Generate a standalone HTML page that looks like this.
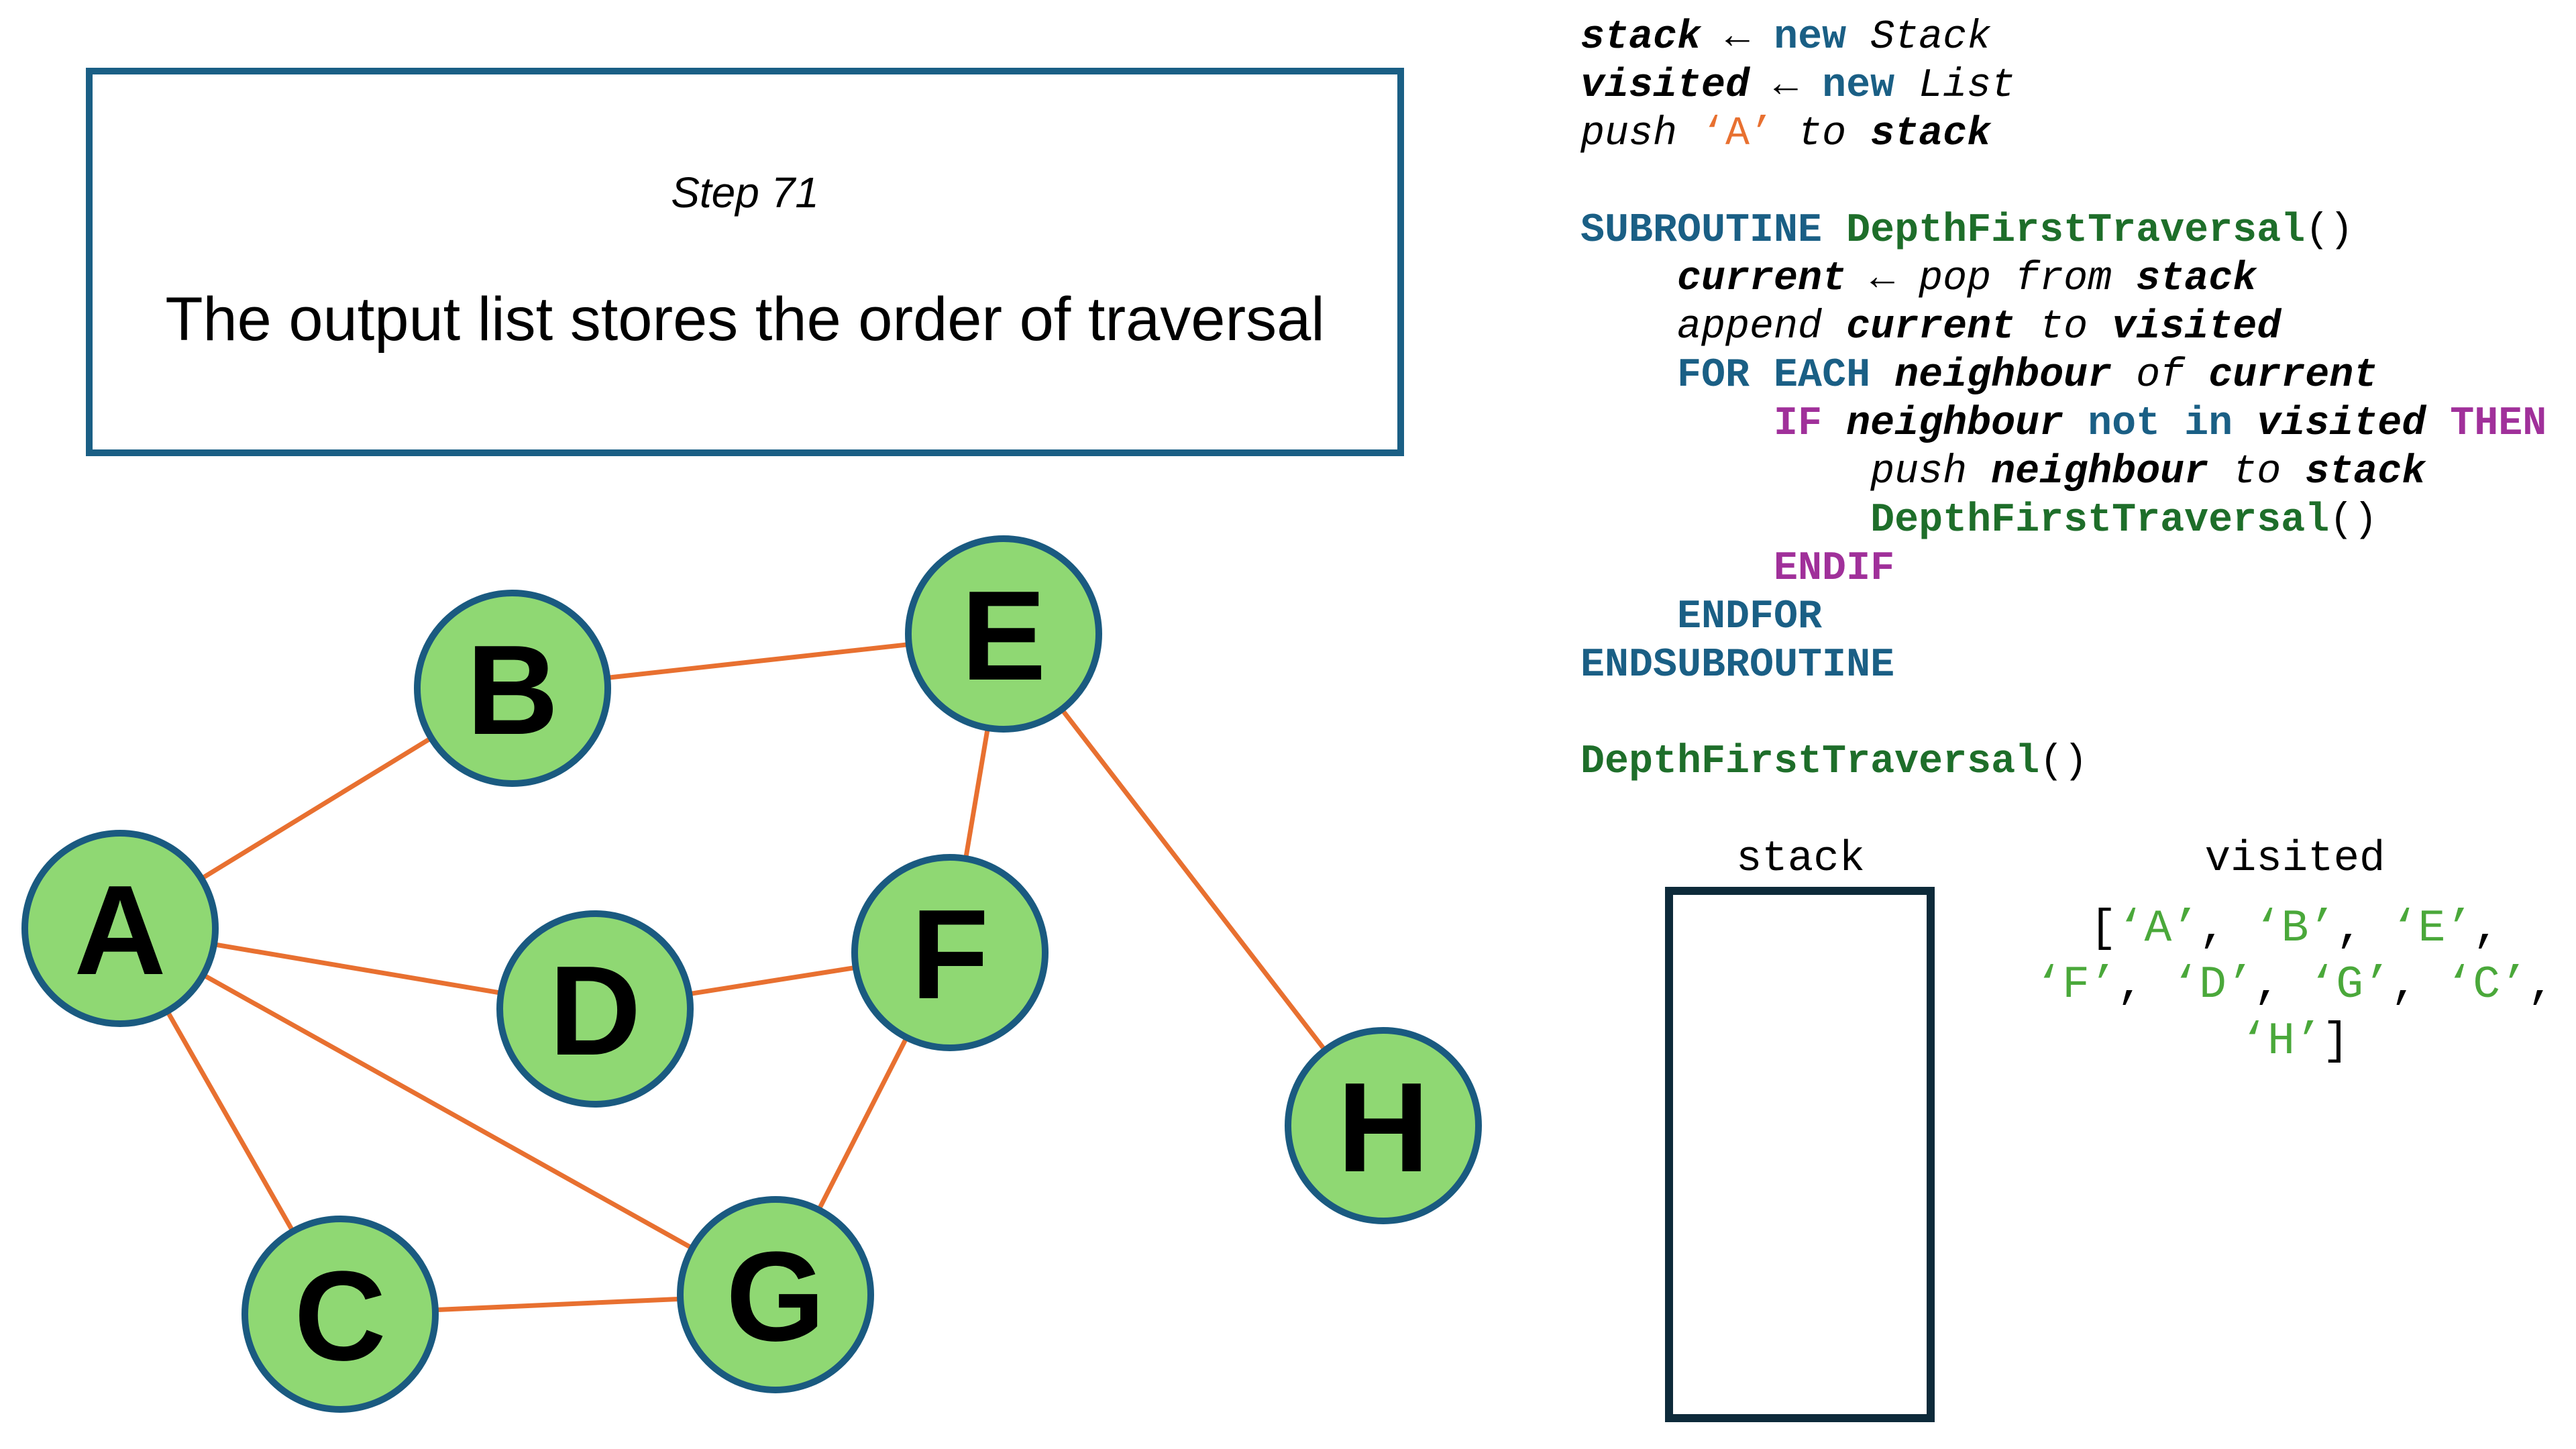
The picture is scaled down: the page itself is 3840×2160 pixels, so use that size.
<!DOCTYPE html>
<html><head><meta charset="utf-8"><style>
html,body{margin:0;padding:0;background:#fff;}
body{width:3840px;height:2160px;position:relative;overflow:hidden;font-family:"Liberation Sans",sans-serif;}
.box{position:absolute;left:128px;top:101px;width:1945px;height:559px;border:10px solid #1a5f85;}
.t1{position:absolute;left:130px;width:1961px;top:250px;text-align:center;font-style:italic;font-size:64px;}
.t2{position:absolute;left:130px;width:1961px;top:424px;text-align:center;font-size:92px;}
pre{position:absolute;left:2356px;top:20px;margin:0;font-family:"Liberation Mono",monospace;font-size:60px;line-height:72px;color:#000;}
i{font-style:italic;}
b{font-weight:bold;}
.k{color:#1a5f85;font-weight:bold;}
.g{color:#1e6e2a;font-weight:bold;}
.p{color:#a0309a;font-weight:bold;}
.o{color:#e87030;}
.lbl{position:absolute;font-family:"Liberation Mono",monospace;font-size:64px;text-align:center;}
.lg{color:#4aa83a;}
.stk{position:absolute;left:2482px;top:1322px;width:378px;height:774px;border:12px solid #0d2a3a;}
</style></head><body>
<div class="box"></div>
<div class="t1">Step 71</div>
<div class="t2">The output list stores the order of traversal</div>
<svg style="position:absolute;left:0;top:0" width="3840" height="2160">
<g stroke="#e87030" stroke-width="7">
<line x1="179" y1="1384" x2="764" y2="1026"/>
<line x1="764" y1="1026" x2="1496" y2="945"/>
<line x1="1496" y1="945" x2="1416" y2="1420"/>
<line x1="1496" y1="945" x2="2062" y2="1678"/>
<line x1="179" y1="1384" x2="887" y2="1504"/>
<line x1="887" y1="1504" x2="1416" y2="1420"/>
<line x1="179" y1="1384" x2="1156" y2="1930"/>
<line x1="179" y1="1384" x2="507" y2="1959"/>
<line x1="1416" y1="1420" x2="1156" y2="1930"/>
<line x1="507" y1="1959" x2="1156" y2="1930"/>
</g>
<g fill="#8fd873" stroke="#1a5a80" stroke-width="10">
<circle cx="179" cy="1384" r="142"/><circle cx="764" cy="1026" r="142"/>
<circle cx="1496" cy="945" r="142"/><circle cx="887" cy="1504" r="142"/>
<circle cx="1416" cy="1420" r="142"/><circle cx="2062" cy="1678" r="142"/>
<circle cx="507" cy="1959" r="142"/><circle cx="1156" cy="1930" r="142"/>
</g>
<g font-family="Liberation Sans,sans-serif" font-weight="bold" font-size="190" text-anchor="middle" fill="#000">
<text x="179" y="1452">A</text><text x="764" y="1094">B</text>
<text x="1496" y="1013">E</text><text x="887" y="1572">D</text>
<text x="1416" y="1488">F</text><text x="2062" y="1746">H</text>
<text x="507" y="2027">C</text><text x="1156" y="1998">G</text>
</g>
</svg>
<pre><b><i>stack</i></b> ← <span class="k">new</span> <i>Stack</i>
<b><i>visited</i></b> ← <span class="k">new</span> <i>List</i>
<i>push</i> <span class="o">‘A’</span> <i>to</i> <b><i>stack</i></b>

<span class="k">SUBROUTINE</span> <span class="g">DepthFirstTraversal</span>()
    <b><i>current</i></b> ← <i>pop from</i> <b><i>stack</i></b>
    <i>append</i> <b><i>current</i></b> <i>to</i> <b><i>visited</i></b>
    <span class="k">FOR EACH</span> <b><i>neighbour</i></b> <i>of</i> <b><i>current</i></b>
        <span class="p">IF</span> <b><i>neighbour</i></b> <span class="k">not in</span> <b><i>visited</i></b> <span class="p">THEN</span>
            <i>push</i> <b><i>neighbour</i></b> <i>to</i> <b><i>stack</i></b>
            <span class="g">DepthFirstTraversal</span>()
        <span class="p">ENDIF</span>
    <span class="k">ENDFOR</span>
<span class="k">ENDSUBROUTINE</span>

<span class="g">DepthFirstTraversal</span>()</pre>
<div class="lbl" style="left:2484px;width:400px;top:1245px;">stack</div>
<div class="lbl" style="left:3121px;width:600px;top:1245px;">visited</div>
<div class="stk"></div>
<div class="lbl" style="left:2971px;width:900px;top:1343px;line-height:84px;font-size:68px;">[<span class="lg">‘A’</span>, <span class="lg">‘B’</span>, <span class="lg">‘E’</span>,<br><span class="lg">‘F’</span>, <span class="lg">‘D’</span>, <span class="lg">‘G’</span>, <span class="lg">‘C’</span>,<br><span class="lg">‘H’</span>]</div>
</body></html>
